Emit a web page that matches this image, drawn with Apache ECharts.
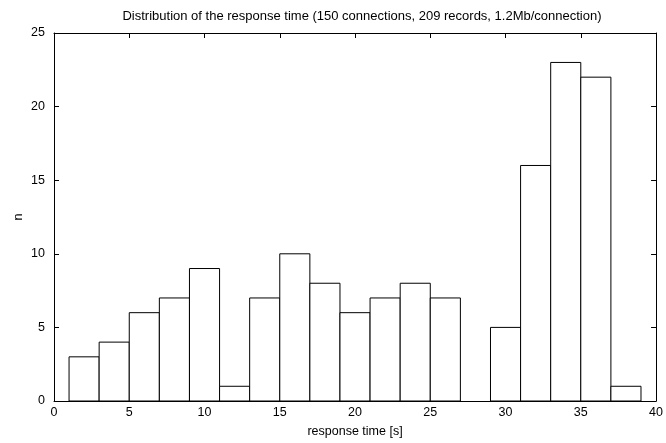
<!DOCTYPE html>
<html>
<head>
<meta charset="utf-8">
<script src="https://cdn.jsdelivr.net/npm/echarts@6/dist/echarts.min.js"></script>
<style>
  html, body { margin: 0; padding: 0; background: #fff; }
  #chart { width: 666px; height: 443px; }
</style>
</head>
<body>
<div id="chart"></div>
<script>
// histogram bins: [start, end) in seconds and number of records
var binStart = [1, 3, 5, 7, 9, 11, 13, 15, 17, 19, 21, 23, 25, 27, 29, 31, 33, 35, 37];
var binEnd = [3, 5, 7, 9, 11, 13, 15, 17, 19, 21, 23, 25, 27, 29, 31, 33, 35, 37, 39];
var counts = [3, 4, 6, 7, 9, 1, 7, 10, 8, 6, 7, 8, 7, 0, 5, 16, 23, 22, 1];
var xTicks = [0, 5, 10, 15, 20, 25, 30, 35, 40];
var yTicks = [0, 5, 10, 15, 20, 25];

var chart = echarts.init(document.getElementById("chart"), null, { renderer: "canvas" });

var data = counts.map(function (c, i) {
  return [binStart[i], binEnd[i], c];
});

var font = "Liberation Sans, Arial, sans-serif";
var axisLine = { show: true, onZero: false, lineStyle: { color: "#000", width: 1 } };
var tick = { show: true, inside: true, length: 5, lineStyle: { color: "#000", width: 1 } };

var option = {
  animation: false,
  backgroundColor: "#fff",
  textStyle: { fontFamily: font },
  title: {
    text: "Distribution of the response time (150 connections, 209 records, 1.2Mb/connection)",
    left: 357,
    textAlign: "center",
    top: 5,
    textStyle: { fontSize: 13, fontWeight: "normal", color: "#000", fontFamily: font },
  },
  grid: { left: 54, right: 5, top: 33, bottom: 40 },
  xAxis: [
    {
      type: "value",
      min: xTicks[0],
      max: xTicks[xTicks.length - 1],
      interval: 5,
      name: "response time [s]",
      nameLocation: "middle",
      nameGap: 24,
      nameTextStyle: { fontSize: 12.5, color: "#000" },
      axisLine: axisLine,
      axisTick: tick,
      axisLabel: { fontSize: 12.5, color: "#000", margin: 5 },
      splitLine: { show: false },
    },
    {
      type: "value",
      position: "top",
      min: xTicks[0],
      max: xTicks[xTicks.length - 1],
      interval: 5,
      axisLine: axisLine,
      axisTick: tick,
      axisLabel: { show: false },
      splitLine: { show: false },
    },
  ],
  yAxis: [
    {
      type: "value",
      min: yTicks[0],
      max: yTicks[yTicks.length - 1],
      interval: 5,
      name: "n",
      nameLocation: "middle",
      nameGap: 29,
      nameMoveOverlap: false,
      nameTextStyle: { fontSize: 12.5, color: "#000" },
      axisLine: axisLine,
      axisTick: tick,
      axisLabel: { fontSize: 12.5, color: "#000", margin: 9 },
      splitLine: { show: false },
    },
    {
      type: "value",
      position: "right",
      min: yTicks[0],
      max: yTicks[yTicks.length - 1],
      interval: 5,
      axisLine: axisLine,
      axisTick: tick,
      axisLabel: { show: false },
      splitLine: { show: false },
    },
  ],
  series: [
    {
      type: "custom",
      xAxisIndex: 0,
      yAxisIndex: 0,
      data: data,
      renderItem: function (params, api) {
        var n = api.value(2);
        if (!n) return null;
        var p0 = api.coord([api.value(0), n]);
        var p1 = api.coord([api.value(1), 0]);
        return {
          type: "rect",
          shape: { x: p0[0], y: p0[1], width: p1[0] - p0[0], height: p1[1] - p0[1] },
          style: { fill: "#fff", stroke: "#000", lineWidth: 1 },
        };
      },
    },
  ],
};
chart.setOption(option);
</script>
</body>
</html>
